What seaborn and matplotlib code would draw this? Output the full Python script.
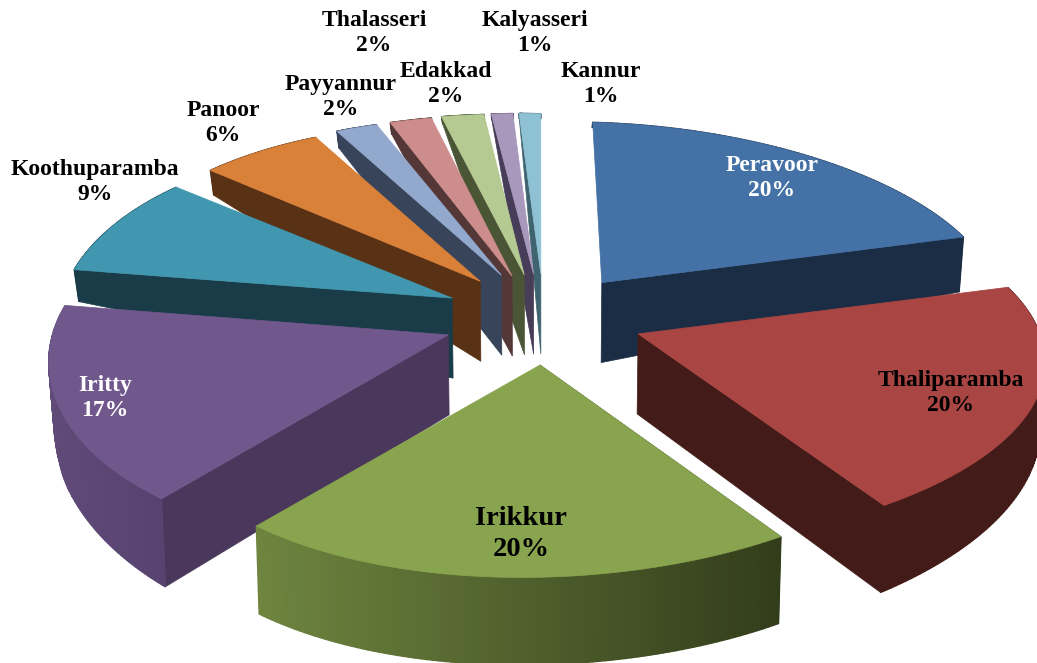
import numpy as np
import matplotlib
matplotlib.use("Agg")
import matplotlib.pyplot as plt
import seaborn as sns

blocks = ["Peravoor", "Thaliparamba", "Irikkur", "Iritty", "Koothuparamba", "Panoor",
          "Payyannur", "Edakkad", "Thalasseri", "Kalyasseri", "Kannur"]
shares = [20, 20, 20, 17, 9, 6, 2, 2, 2, 1, 1]

top_colors = ["#4471A6", "#A94543", "#89A44E", "#70578C", "#4197AF", "#DA8139",
              "#92A8CD", "#CD8D8C", "#B5CA92", "#A898BC", "#8FC1D4"]
cut_colors = ["#1B2D45", "#431B18", "#333D1B", "#49375C", "#193C48", "#593114",
              "#37445A", "#543737", "#4A5536", "#483D58", "#3F6470"]
wall_left = ["#1B2D45", "#431B18", "#6E853F", "#5F4A78", "#193C48", "#593114",
             "#37445A", "#543737", "#4A5536", "#483D58", "#3F6470"]
wall_right = ["#1B2D45", "#431B18", "#333D1B", "#574370", "#193C48", "#593114",
              "#37445A", "#543737", "#4A5536", "#483D58", "#3F6470"]

# label centres in pixels, text colour, size
label_xy = [(772, 178), (951, 393), (521, 534), (105, 398), (95, 182), (223, 123),
            (341, 97), (446, 84), (374, 33), (535, 33), (601, 84)]
label_colors = ["white", "black", "black", "white", "black", "black",
                "black", "black", "black", "black", "black"]
label_sizes = [17, 17, 20.5, 17, 17, 17, 17, 17, 17, 17, 17]
label_gaps = [1.25, 1.25, 1.35, 1.25, 1.25, 1.25, 1.25, 1.25, 1.25, 1.25, 1.25]

# pie geometry, in pixels
center_x, center_y = 540, 319
explode_x, explode_y = 100, 45
radius_x, radius_y = 395, 183
persp = 0.142
tilt = 9
apex_depth = 80
# small per slice corrections, the picture is not a clean projection
rim_nudge = [0, 8, 0, -3, 6, 12, 12, 14, 12, 10, 10]
apex_nudge = [(3, 0), (3, 1), (0, 1), (0, -2), (4, -3), (4, -3), (4, -3), (3, 0), (3, 0), (3, 0), (4, 0)]
depth_deg = [0, 72, 144, 216, 245, 262, 277, 309, 331, 345, 360]
depth_px = [5, 55, 87, 88, 72, 50, 32, 25, 17, 7, 5]


def rim(theta):
    u, v = np.sin(theta), np.cos(theta)
    den = 1 + persp * v
    y = -radius_y * v / den
    x = radius_x * u / den + 4.4 - 0.042 * y - 0.00067 * y ** 2
    return x, y + tilt * u


def rim_depth(theta):
    return np.interp(np.degrees(theta), depth_deg, depth_px)


def lower(x, y, d):
    # the bottom face narrows a little towards the middle
    return x - 0.01 * (x - center_x), y + d


def draw_slice(ax, i, start, end):
    mid = (start + end) / 2
    ax_x = center_x + explode_x * np.sin(mid) + apex_nudge[i][0]
    ax_y = center_y - explode_y * np.cos(mid) + apex_nudge[i][1]
    thetas = np.linspace(start, end, 90)
    rx, ry = rim(thetas)
    rx, ry = rx + ax_x + rim_nudge[i] - apex_nudge[i][0], ry + ax_y - apex_nudge[i][1]
    bx, by = lower(rx, ry, rim_depth(thetas))
    low_x, low_y = lower(ax_x, ax_y, apex_depth)

    # cut face that looks at the viewer
    k = -1 if mid < np.pi else 0
    ax.fill([ax_x, rx[k], bx[k], low_x], [ax_y, ry[k], by[k], low_y],
            color=cut_colors[i], lw=0.5, zorder=i_order[i] + 0.1)

    # outer wall, as thin strips for the shading
    left = np.array(matplotlib.colors.to_rgb(wall_left[i]))
    right = np.array(matplotlib.colors.to_rgb(wall_right[i]))
    span = max(rx.max() - rx.min(), 1)
    for j in range(len(thetas) - 1):
        t = (rx[j] - rx.min()) / span
        ax.fill([rx[j], rx[j + 1], bx[j + 1], bx[j]], [ry[j], ry[j + 1], by[j + 1], by[j]],
                color=tuple(left + (right - left) * t), lw=1.0, zorder=i_order[i] + 0.2)

    ax.fill(np.r_[ax_x, rx], np.r_[ax_y, ry], color=top_colors[i], lw=0.5,
            zorder=i_order[i] + 0.3)


sns.set_theme(style="white")
plt.rcParams["font.family"] = ["Liberation Serif", "DejaVu Serif"]
palette = sns.color_palette(top_colors)
top_colors = [matplotlib.colors.to_hex(c) for c in palette]

fig = plt.figure(figsize=(10.37, 6.63), dpi=100)
ax = fig.add_axes([0, 0, 1, 1])
ax.set_xlim(0, 1037)
ax.set_ylim(663, 0)
ax.axis("off")

edges = np.r_[0, np.cumsum(shares)] / sum(shares) * 2 * np.pi
mids = (edges[:-1] + edges[1:]) / 2
# back slices first so the front ones cover them
order = np.argsort(-np.cos(mids))
i_order = {int(s): n for n, s in enumerate(order)}

for i in range(len(shares)):
    draw_slice(ax, i, edges[i], edges[i + 1])

for i, name in enumerate(blocks):
    ax.text(label_xy[i][0], label_xy[i][1], f"{name}\n{shares[i]}%", ha="center", va="center",
            color=label_colors[i], fontsize=label_sizes[i], fontweight="bold", zorder=50,
            linespacing=label_gaps[i])

fig.savefig("out.png", dpi=100)
